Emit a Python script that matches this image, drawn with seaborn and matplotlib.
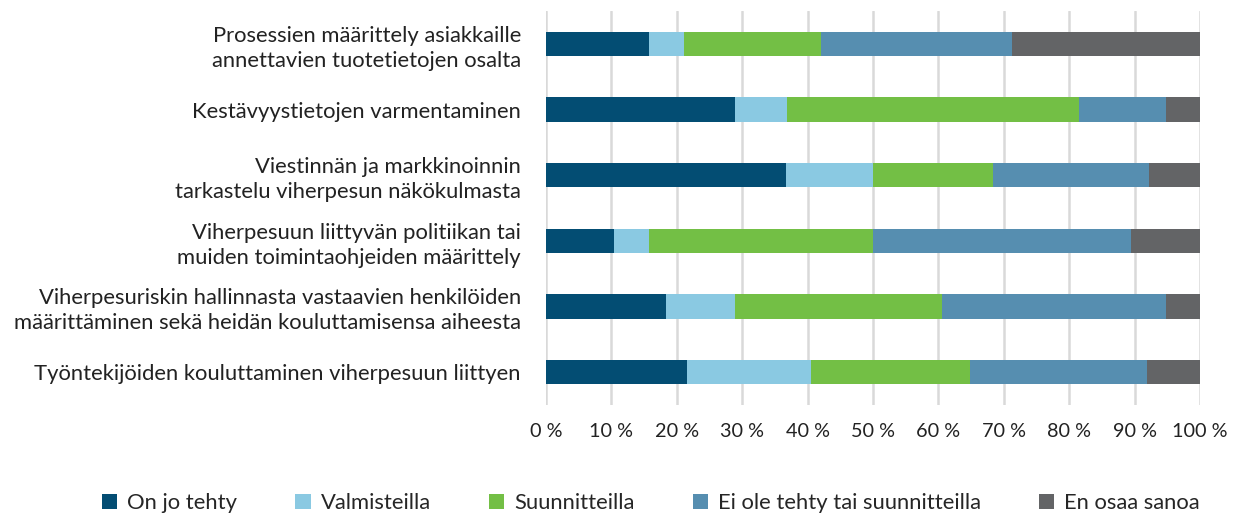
import numpy as np
import pandas as pd
import matplotlib
matplotlib.use("Agg")
import matplotlib.pyplot as plt
import seaborn as sns

categories = [
    "Prosessien määrittely asiakkaille\nannettavien tuotetietojen osalta",
    "Kestävyystietojen varmentaminen",
    "Viestinnän ja markkinoinnin\ntarkastelu viherpesun näkökulmasta",
    "Viherpesuun liittyvän politiikan tai\nmuiden toimintaohjeiden määrittely",
    "Viherpesuriskin hallinnasta vastaavien henkilöiden\nmäärittäminen sekä heidän kouluttamisensa aiheesta",
    "Työntekijöiden kouluttaminen viherpesuun liittyen",
]
series = ["On jo tehty", "Valmisteilla", "Suunnitteilla", "Ei ole tehty tai suunnitteilla", "En osaa sanoa"]
on_jo_tehty = [15.7, 28.9, 36.7, 10.4, 18.3, 21.5]
valmisteilla = [5.4, 8.0, 13.3, 5.4, 10.6, 19.0]
suunnitteilla = [21.0, 44.6, 18.4, 34.2, 31.6, 24.4]
ei_ole = [29.1, 13.3, 23.8, 39.5, 34.3, 27.0]
en_osaa = [28.8, 5.2, 7.8, 10.5, 5.2, 8.1]
colors = ["#034d73", "#8ac9e2", "#73bf45", "#568eb0", "#636466"]
xticks = [0, 10, 20, 30, 40, 50, 60, 70, 80, 90, 100]
xticklabels = [f"{v} %" for v in xticks]

sns.set_theme(style="white")
plt.rcParams['font.family'] = ['Lato', 'DejaVu Sans']

df = pd.DataFrame({"cat": categories, series[0]: on_jo_tehty, series[1]: valmisteilla,
                   series[2]: suunnitteilla, series[3]: ei_ole, series[4]: en_osaa})
cum = df[series].cumsum(axis=1)

fig = plt.figure(figsize=(12.37, 5.17), dpi=100)
ax = fig.add_axes([546/1237, 1-405/517, (1200-546)/1237, (405-11)/517])

for i in range(len(series)-1, -1, -1):
    d = pd.DataFrame({"cat": categories, "val": cum[series[i]].values})
    sns.barplot(data=d, x="val", y="cat", order=categories, color=colors[i],
                width=0.37, ax=ax, saturation=1, label=series[i], linewidth=0, zorder=3)

if ax.get_legend() is not None:
    ax.get_legend().remove()

ax.set_xlim(0, 100)
ax.set_ylim(5.5, -0.5)
ax.set_xticks(xticks)
ax.set_xticklabels(xticklabels, fontsize=14.3, color="#222222")
ax.tick_params(axis="y", labelsize=15.8, colors="#222222", length=0, pad=18)
ax.tick_params(axis="x", length=0, pad=13)
for lab in ax.get_yticklabels():
    lab.set_linespacing(1.3)
ax.set_xlabel("")
ax.set_ylabel("")
ax.xaxis.grid(True, color="#d9d9d9", linewidth=1.8, zorder=0)
ax.set_axisbelow(True)
for s in ax.spines.values():
    s.set_visible(False)

handles, labels = ax.get_legend_handles_labels()
order = [labels.index(s) for s in series]
fig.legend([handles[k] for k in order], [labels[k] for k in order],
           loc="center", bbox_to_anchor=(651/1237, 1-503/517), ncol=5, frameon=False,
           fontsize=15.8, handlelength=0.7, handleheight=0.7, handletextpad=0.45,
           columnspacing=2.65)

fig.savefig("out.png", dpi=100)
